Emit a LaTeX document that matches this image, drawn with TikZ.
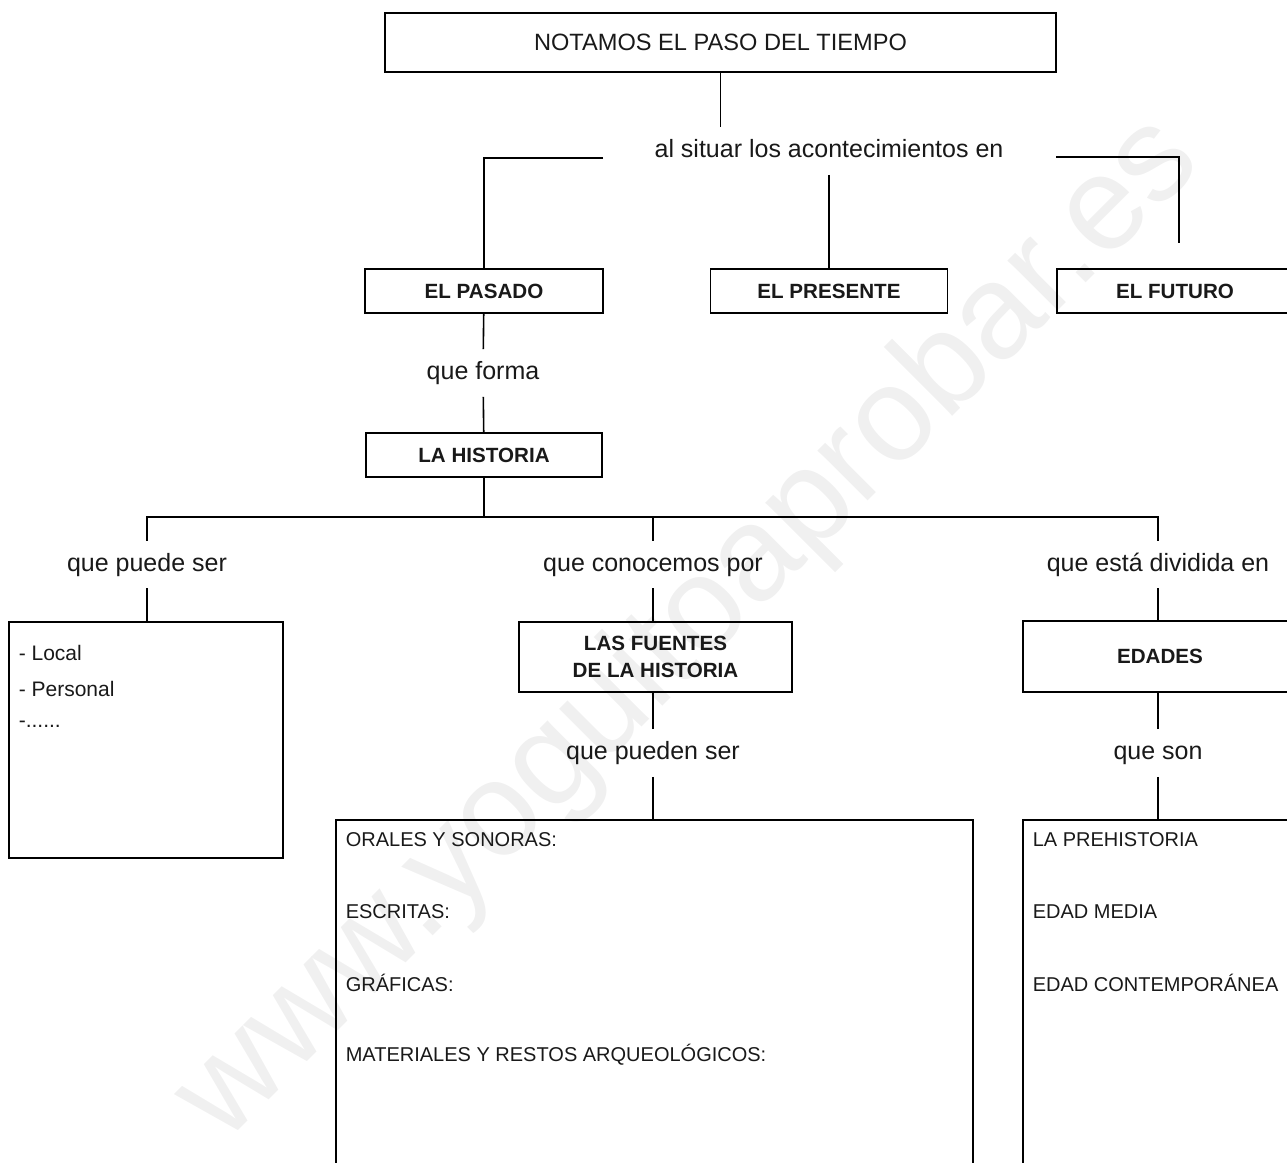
\documentclass[tikz,border=0pt]{standalone}
\usepackage{fontspec}
\setmainfont{Liberation Sans}
\usetikzlibrary{positioning}

\begin{document}
\begin{tikzpicture}[x=0.5pt,y=-0.5pt,line width=0.8pt,
    lbl/.style={inner sep=0pt,minimum height=23pt,text height=9.4pt,text depth=2.6pt,text=black!90,font=\fontsize{12.5}{15}\selectfont},
    item/.style={anchor=west,inner sep=0pt,text=black!90,font=\fontsize{10}{12}\selectfont}]

        \useasboundingbox (0,0) rectangle (1287,1163);
        \clip (0,0) rectangle (1287,1163);

        \node[rotate=45,text=black!6,font=\fontsize{67}{67}\selectfont] (marca) at (690,630) {www.yoguitoaprobar.es};

        \begin{scope}[every node/.style={draw,inner sep=0pt,text=black!90,font=\bfseries\fontsize{10.3}{13.5}\selectfont}]
          \node[minimum width=335.5pt,minimum height=29.5pt,font=\fontsize{11.8}{14}\selectfont] (title) at (720.5,42.5) {NOTAMOS EL PASO DEL TIEMPO};
          \node[minimum width=119pt,minimum height=22pt] (pasado)   at (484,291)  {EL PASADO};
          \node[minimum width=118.5pt,minimum height=22pt] (presente) at (829,291)  {EL PRESENTE};
          \node[minimum width=118pt,minimum height=22pt] (futuro)   at (1175,291) {EL FUTURO};
          \node[minimum width=118pt,minimum height=22pt] (historia) at (484,455)  {LA HISTORIA};
          \node[minimum width=137pt,minimum height=118pt] (local)   at (146,740)  {};
          \node[minimum width=136.5pt,minimum height=35pt,align=center] (fuentes) at (655.5,657) {LAS FUENTES\\DE LA HISTORIA};
          \node[minimum width=137pt,minimum height=35.5pt] (edades) at (1160,656.5) {EDADES};
          \node[minimum width=318.5pt,minimum height=190pt] (tipos) at (654.5,1010) {};
          \node[minimum width=137pt,minimum height=190pt] (etapas) at (1160,1010) {};
        \end{scope}

        \node[lbl] (situar)    at (829,151)   {al situar los acontecimientos en};
        \node[lbl] (forma)     at (483,373)   {que forma};
        \node[lbl] (puede)     at (147,564.5) {que puede ser};
        \node[lbl] (conocemos) at (653,564.5) {que conocemos por};
        \node[lbl] (dividida)  at (1158,564.5) {que está dividida en};
        \node[lbl] (pueden)    at (653,753)   {que pueden ser};
        \node[lbl] (son)       at (1158,753)  {que son};

        \begin{scope}[every node/.style={item}]
          \node[font=\fontsize{10.5}{12}\selectfont] (local1) at (18,653) {- Local};
          \node[font=\fontsize{10.5}{12}\selectfont] (local2) at (18,689) {- Personal};
          \node[font=\fontsize{10.5}{12}\selectfont] (local3) at (18,724) {-......};
          \node (tipo1) at (345,840)  {ORALES Y SONORAS:};
          \node (tipo2) at (345,912)  {ESCRITAS:};
          \node (tipo3) at (345,983)  {GRÁFICAS:};
          \node (tipo4) at (345,1055) {MATERIALES Y RESTOS ARQUEOLÓGICOS:};
          \node (etapa1) at (1032,840) {LA PREHISTORIA};
          \node (etapa2) at (1032,912) {EDAD MEDIA};
          \node (etapa3) at (1032,983) {EDAD CONTEMPORÁNEA};
        \end{scope}

        \coordinate (sl)  at (603,158);
        \coordinate (sr)  at (1056,157);
        \coordinate (fe)  at (1179,243);
        \coordinate (bar) at (653,517);

        \draw (title.south) -- (title.south |- situar.north);
        \draw (sl) -| (pasado);
        \draw (situar) -- (presente);
        \draw (sr) -| (fe);
        \draw (pasado) -- (forma);
        \draw (forma) -- (historia);
        \draw (historia) -- (historia |- bar);
        \draw (puede) |- (bar) -| (dividida);
        \draw (bar) -- (conocemos);
        \draw (puede) -- (puede |- local.north);
        \draw (conocemos) -- (conocemos |- fuentes.north);
        \draw (dividida) -- (dividida |- edades.north);
        \draw (pueden) -- (pueden |- fuentes.south);
        \draw (pueden) -- (pueden |- tipos.north);
        \draw (son) -- (son |- edades.south);
        \draw (son) -- (son |- etapas.north);

      \end{tikzpicture}
\end{document}
